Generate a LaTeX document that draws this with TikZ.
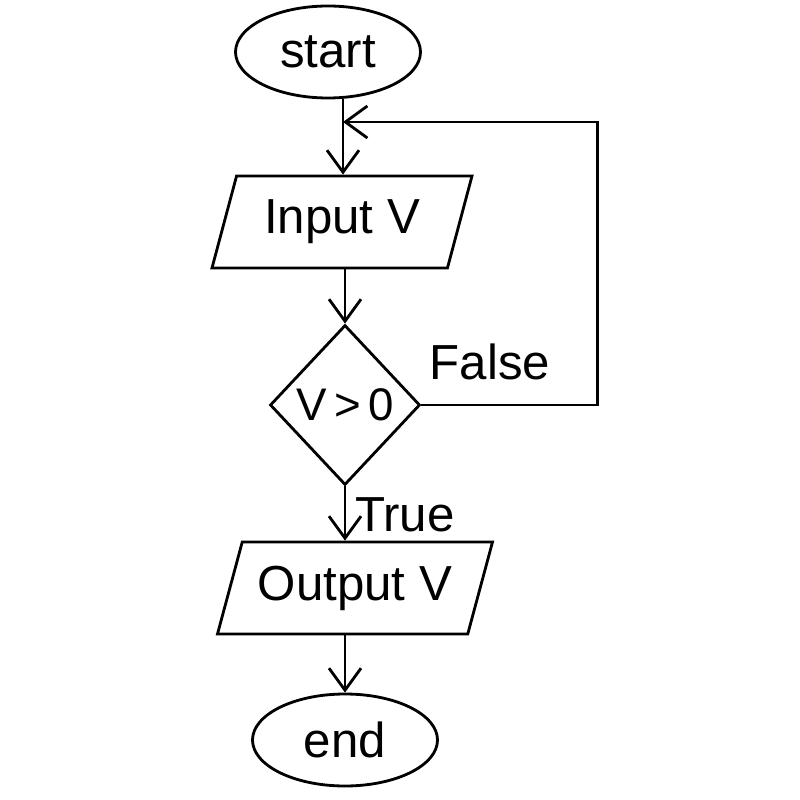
\documentclass[tikz,border=0pt]{standalone}
\usepackage{fontspec}
\setmainfont{Liberation Sans}
\usetikzlibrary{shapes.geometric,arrows.meta}
\tikzset{
  flow/.style={draw, line width=0.8pt, font=\fontsize{14}{17}\selectfont},
  term/.style={flow, ellipse, minimum width=1.85cm, minimum height=0.92cm},
  io/.style={flow, trapezium, trapezium left angle=70, trapezium right angle=110,
    trapezium stretches body=true, minimum height=0.92cm},
  test/.style={flow, diamond, minimum width=1.5cm, minimum height=1.6cm, inner sep=0pt,
    font=\fontsize{13}{16}\selectfont},
  link/.style={line width=0.8pt, -{Straight Barb[length=2.2mm,width=3.2mm]}}
}
\begin{document}
\begin{tikzpicture}
  \useasboundingbox (0,0) rectangle (8,-8);
  % blocks
  \node[term] (start) at (3.28,-0.52) {start};
  \node[io, minimum width=2.6cm] (input) at (3.42,-2.22) {Input V};
  \node[test] (check) at (3.45,-4.05) {V\,>\,0};
  \node[io, minimum width=2.75cm] (output) at (3.55,-5.88) {Output V};
  \node[term] (end) at (3.45,-7.4) {end};
  \coordinate (rejoin) at (3.43,-1.22);
  % links
  \draw[link] (start.south -| rejoin) -- (rejoin |- input.north);
  \draw[link] (input.south -| check.north) -- (check.north);
  \draw[link] (check.south) -- (check.south |- output.north);
  \draw[link] (output.south -| end.north) -- (end.north);
  \draw[link] (check.east) -- ++(1.76,0) |- (rejoin);
  \node[font=\fontsize{14}{17}\selectfont] (false) at (4.9,-3.62) {False};
  \node[font=\fontsize{14}{17}\selectfont] (true) at (4.05,-5.15) {True};
\end{tikzpicture}
\end{document}
